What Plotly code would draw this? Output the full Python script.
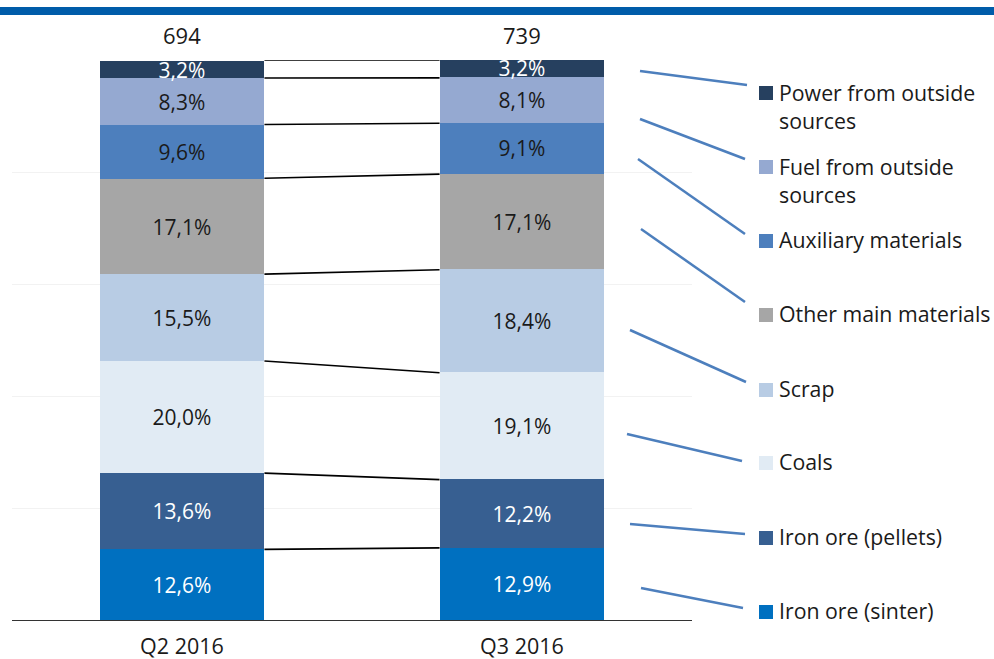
import plotly.graph_objects as go
import numpy as np

# ---- data ----
periods = ["Q2 2016", "Q3 2016"]
totals = [694, 739]
series_names = ["Iron ore (sinter)", "Iron ore (pellets)", "Coals", "Scrap",
                "Other main materials", "Auxiliary materials",
                "Fuel from outside sources", "Power from outside sources"]
sinter = [12.6, 12.9]
pellets = [13.6, 12.2]
coals = [20.0, 19.1]
scrap = [15.5, 18.4]
other_main = [17.1, 17.1]
auxiliary = [9.6, 9.1]
fuel = [8.3, 8.1]
power = [3.2, 3.2]
legend_labels = ["Iron ore (sinter)", "Iron ore (pellets)", "Coals", "Scrap",
                 "Other main materials", "Auxiliary materials",
                 "Fuel from outside<br>sources", "Power from outside<br>sources"]

series = [sinter, pellets, coals, scrap, other_main, auxiliary, fuel, power]
colors = ["#0070C0", "#375F91", "#E1EBF4", "#B8CCE4", "#A6A6A6", "#4D7FBD", "#95A9D1", "#26405F"]
text_colors = ["white", "white", "#1a1a1a", "#1a1a1a", "#1a1a1a", "#1a1a1a", "#1a1a1a", "white"]

FONT = "Open Sans"
FS = 21
W, H = 994, 659
L, R, T, B = 12, 302, 60, 39
PW, PH = W - L - R, H - T - B
BAR_W = 0.485

def px(x):
    return (x - L) / PW

def py(y):
    return (H - B - y) / PH

fig = go.Figure()
xs = list(range(len(periods)))
for name, vals, c, tc in zip(series_names, series, colors, text_colors):
    fig.add_trace(go.Bar(
        x=xs, y=vals, name=name, width=BAR_W,
        marker=dict(color=c, line=dict(width=0)),
        text=[f"{v:.1f}%".replace(".", ",") for v in vals],
        textposition="inside", insidetextanchor="middle", textangle=0,
        constraintext="none",
        textfont=dict(family=FONT, size=FS, color=tc),
        showlegend=False, hoverinfo="skip",
    ))

# connector lines between stacked segments (normalized cumulative shares)
arr = np.array(series)
norm = arr / arr.sum(axis=0) * 100
cum = np.cumsum(norm, axis=0)
cx, cy = [], []
for k in range(cum.shape[0]):
    cx += [0 + BAR_W / 2, 1 - BAR_W / 2, None]
    cy += [cum[k, 0], cum[k, 1], None]
fig.add_trace(go.Scatter(x=cx, y=cy, mode="lines",
                         line=dict(color="black", width=1.6),
                         showlegend=False, hoverinfo="skip"))

annotations = []
for i, t in enumerate(totals):
    annotations.append(dict(x=i, y=100, xref="x", yref="y", text=str(t),
                            showarrow=False, yanchor="bottom", yshift=8,
                            font=dict(family=FONT, size=22, color="#1a1a1a")))

shapes = []
# top blue band
shapes.append(dict(type="rect", xref="paper", yref="paper",
                   x0=px(-2), x1=px(W + 2), y0=py(15), y1=py(7),
                   fillcolor="#005CA9", line=dict(width=0), layer="above"))

# custom legend: squares, labels and leader lines (pixel positions)
sq_y = [612, 538, 463, 390, 315, 241, 167, 93]
leaders = [((641, 588), (743, 608)), ((630, 524), (745, 534)), ((627, 434), (742, 461)),
           ((630, 330), (746, 382)), ((641, 229), (745, 302)), ((638, 159), (745, 234)),
           ((640, 119), (745, 159)), ((640, 71), (747, 85))]
for lab, c, y, ((x0, y0), (x1, y1)) in zip(legend_labels, colors, sq_y, leaders):
    shapes.append(dict(type="rect", xref="paper", yref="paper",
                       x0=px(759), x1=px(773), y0=py(y + 7), y1=py(y - 7),
                       fillcolor=c, line=dict(width=0)))
    shapes.append(dict(type="line", xref="paper", yref="paper",
                       x0=px(x0), y0=py(y0), x1=px(x1), y1=py(y1),
                       line=dict(color="#4D7FBD", width=2.5)))
    two = "<br>" in lab
    ymid = y + 13 if two else y - 1.5
    annotations.append(dict(x=px(777), y=py(ymid), xref="paper", yref="paper",
                            text=lab, showarrow=False, xanchor="left", yanchor="middle",
                            align="left",
                            font=dict(family=FONT, size=FS + 0.3, color="#1a1a1a")))

fig.update_layout(
    barmode="stack",
    width=W, height=H,
    margin=dict(l=L, r=R, t=T, b=B, pad=0),
    paper_bgcolor="white", plot_bgcolor="white",
    font=dict(family=FONT, size=FS, color="#1a1a1a"),
    xaxis=dict(range=[-0.5, 1.5], tickvals=xs, ticktext=periods, showgrid=False,
               zeroline=False, showline=True, linecolor="#333333", linewidth=1,
               ticks="", tickfont=dict(family=FONT, size=21.5, color="#1a1a1a"),
               ticklabelstandoff=7,
               fixedrange=True, automargin=False),
    yaxis=dict(range=[0, 100], tickvals=[0, 20, 40, 60, 80, 100], showticklabels=False,
               showgrid=True, gridcolor="#F2F2F2", gridwidth=1, zeroline=False,
               showline=False, ticks="", fixedrange=True, automargin=False),
    annotations=annotations,
    shapes=shapes,
)

fig.write_html("out.html", config={"displayModeBar": False},
               post_script="document.body.style.margin='0';document.body.style.overflow='hidden';")
